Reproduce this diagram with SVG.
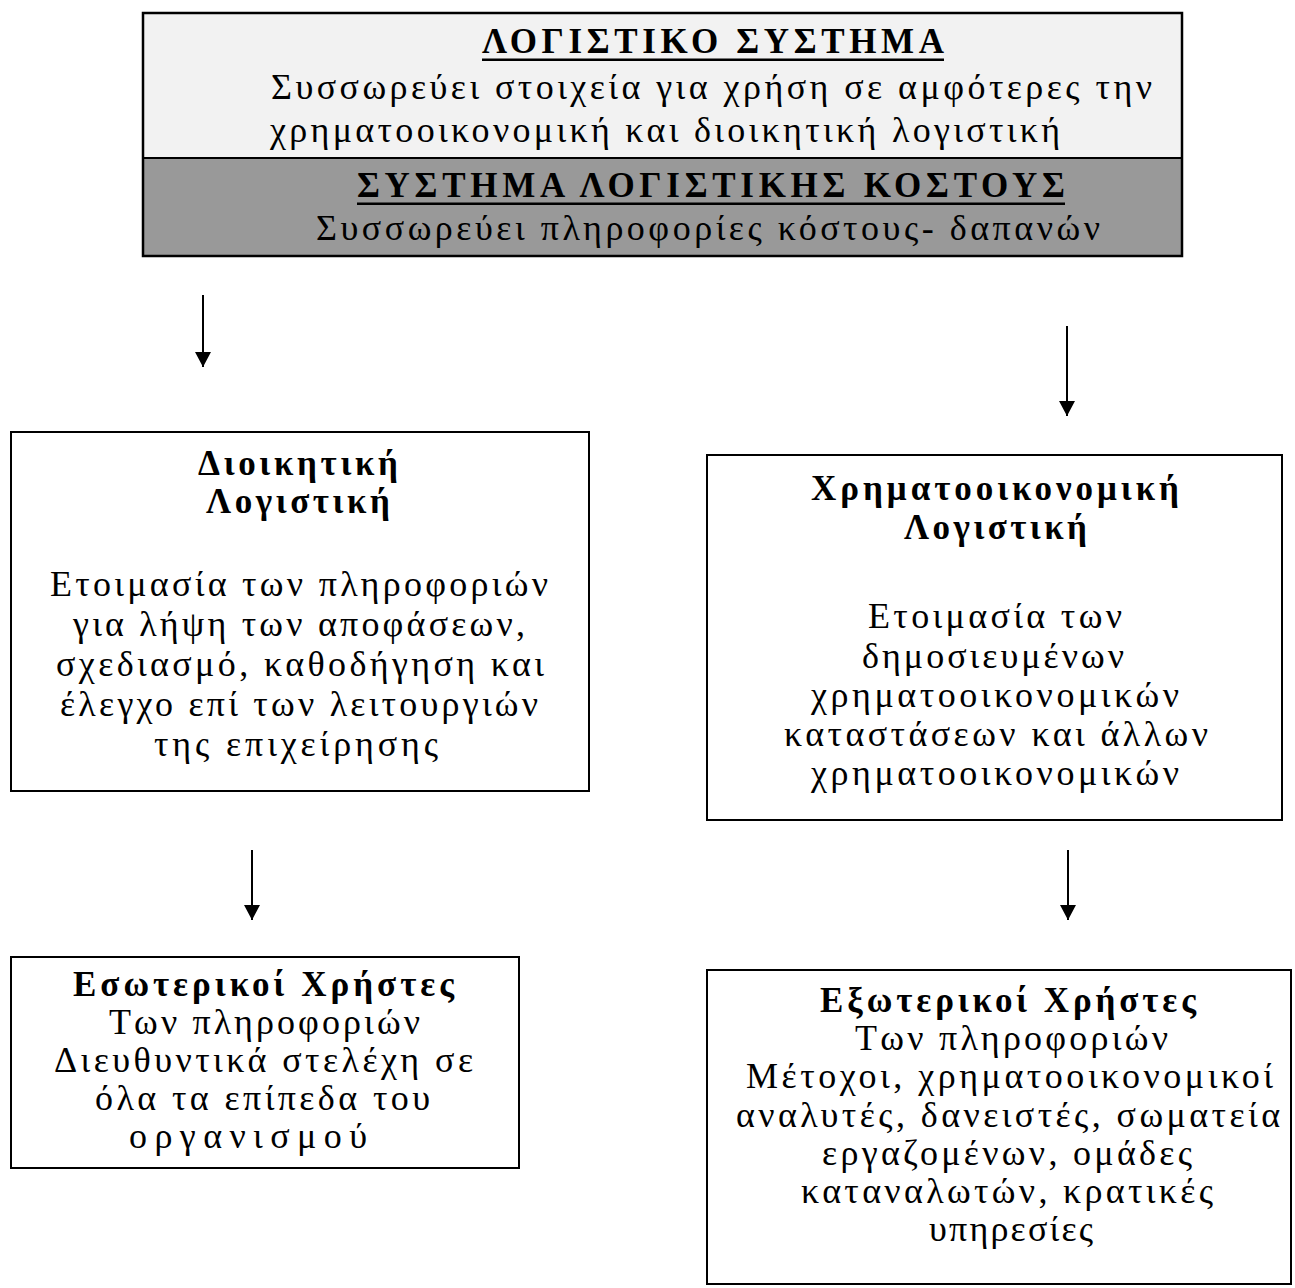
<svg xmlns="http://www.w3.org/2000/svg" width="1295" height="1288" viewBox="0 0 1295 1288">
<style>
.t{font-family:"Liberation Serif","Times New Roman",serif;font-size:36px;fill:#000}
.b{font-weight:bold;font-size:35px}
.box{fill:#fff;stroke:#000;stroke-width:2}
.ul{fill:#000}
#connectors line{stroke:#000;stroke-width:2}
</style>
<defs>
<marker id="ah" markerUnits="userSpaceOnUse" markerWidth="15" markerHeight="16" viewBox="0 0 15 16" refX="15" refY="8" orient="auto">
<path d="M0,0 L15,8 L0,16 z" fill="#000"/>
</marker>
</defs>
<rect width="1295" height="1288" fill="#fff"/>
<g id="node-top">
<rect x="143" y="13" width="1039" height="145" fill="#f2f2f2"/>
<rect x="143" y="158" width="1039" height="98" fill="#999999"/>
<rect x="143" y="13" width="1039" height="243" fill="none" stroke="#000" stroke-width="2.5"/>
<line x1="143" y1="158" x2="1182" y2="158" stroke="#000" stroke-width="2"/>
<text class="t b" x="482" y="53" textLength="462" lengthAdjust="spacing">ΛΟΓΙΣΤΙΚΟ ΣΥΣΤΗΜΑ</text>
<rect class="ul" x="482" y="58.5" width="462" height="2.5"/>
<text class="t" x="271" y="99" textLength="881" lengthAdjust="spacing">Συσσωρεύει στοιχεία για χρήση σε αμφότερες την</text>
<text class="t" x="270" y="142" textLength="790" lengthAdjust="spacing">χρηματοοικονομική και διοικητική λογιστική</text>
<text class="t b" x="357" y="197" textLength="708" lengthAdjust="spacing">ΣΥΣΤΗΜΑ ΛΟΓΙΣΤΙΚΗΣ ΚΟΣΤΟΥΣ</text>
<rect class="ul" x="357" y="202.5" width="708" height="2.5"/>
<text class="t" x="316" y="240" textLength="784" lengthAdjust="spacing">Συσσωρεύει πληροφορίες κόστους- δαπανών</text>
</g>
<g id="node-dioikitiki">
<rect class="box" x="11" y="432" width="578" height="359"/>
<text class="t b" x="198" y="475" textLength="200" lengthAdjust="spacing">Διοικητική</text>
<text class="t b" x="206" y="513" textLength="184" lengthAdjust="spacing">Λογιστική</text>
<text class="t" x="50" y="596" textLength="498" lengthAdjust="spacing">Ετοιμασία των πληροφοριών</text>
<text class="t" x="73" y="636" textLength="452" lengthAdjust="spacing">για λήψη των αποφάσεων,</text>
<text class="t" x="56" y="676" textLength="488" lengthAdjust="spacing">σχεδιασμό, καθοδήγηση και</text>
<text class="t" x="60" y="716" textLength="478" lengthAdjust="spacing">έλεγχο επί των λειτουργιών</text>
<text class="t" x="154" y="756" textLength="284" lengthAdjust="spacing">της επιχείρησης</text>
</g>
<g id="node-xrimatooikonomiki">
<rect class="box" x="707" y="455" width="575" height="365"/>
<text class="t b" x="811" y="500" textLength="368" lengthAdjust="spacing">Χρηματοοικονομική</text>
<text class="t b" x="904" y="539" textLength="183" lengthAdjust="spacing">Λογιστική</text>
<text class="t" x="868" y="628" textLength="254" lengthAdjust="spacing">Ετοιμασία των</text>
<text class="t" x="862" y="668" textLength="262" lengthAdjust="spacing">δημοσιευμένων</text>
<text class="t" x="811" y="707" textLength="368" lengthAdjust="spacing">χρηματοοικονομικών</text>
<text class="t" x="784" y="746" textLength="424" lengthAdjust="spacing">καταστάσεων και άλλων</text>
<text class="t" x="811" y="785" textLength="368" lengthAdjust="spacing">χρηματοοικονομικών</text>
</g>
<g id="node-esoterikoi">
<rect class="box" x="11" y="957" width="508" height="211"/>
<text class="t b" x="73" y="996" textLength="381" lengthAdjust="spacing">Εσωτερικοί Χρήστες</text>
<text class="t" x="109" y="1034" textLength="311" lengthAdjust="spacing">Των πληροφοριών</text>
<text class="t" x="54" y="1072" textLength="419" lengthAdjust="spacing">Διευθυντικά στελέχη σε</text>
<text class="t" x="95" y="1110" textLength="335" lengthAdjust="spacing">όλα τα επίπεδα του</text>
<text class="t" x="129" y="1148" textLength="238" lengthAdjust="spacing">οργανισμού</text>
</g>
<g id="node-exoterikoi">
<rect class="box" x="707" y="970" width="584" height="314"/>
<text class="t b" x="820" y="1012" textLength="376" lengthAdjust="spacing">Εξωτερικοί Χρήστες</text>
<text class="t" x="855" y="1050" textLength="313" lengthAdjust="spacing">Των πληροφοριών</text>
<text class="t" x="746" y="1088" textLength="527" lengthAdjust="spacing">Μέτοχοι, χρηματοοικονομικοί</text>
<text class="t" x="736" y="1127" textLength="544" lengthAdjust="spacing">αναλυτές, δανειστές, σωματεία</text>
<text class="t" x="822" y="1165" textLength="370" lengthAdjust="spacing">εργαζομένων, ομάδες</text>
<text class="t" x="801" y="1203" textLength="412" lengthAdjust="spacing">καταναλωτών, κρατικές</text>
<text class="t" x="929" y="1241" textLength="164" lengthAdjust="spacing">υπηρεσίες</text>
</g>
<g id="connectors">
<line x1="203" y1="295" x2="203" y2="367" marker-end="url(#ah)"/>
<line x1="1067" y1="326" x2="1067" y2="416" marker-end="url(#ah)"/>
<line x1="252" y1="850" x2="252" y2="920" marker-end="url(#ah)"/>
<line x1="1068" y1="850" x2="1068" y2="920" marker-end="url(#ah)"/>
</g>
</svg>
